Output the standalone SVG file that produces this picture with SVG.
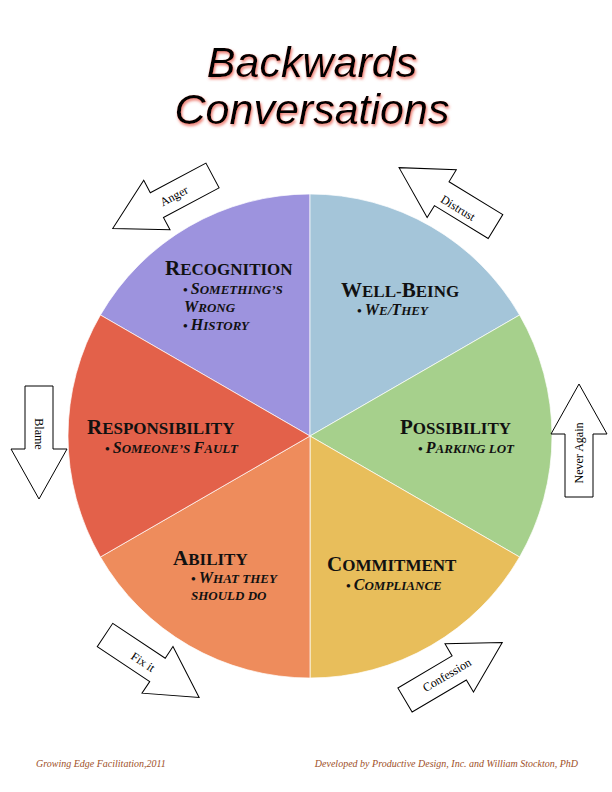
<svg xmlns="http://www.w3.org/2000/svg" width="612" height="792" viewBox="0 0 612 792">
<defs>
<style>
.title{font-family:"Liberation Sans",Arial,sans-serif;font-style:italic;font-size:43px;fill:#000;text-anchor:middle;}
.h{font-family:"Liberation Serif","Times New Roman",serif;font-weight:bold;font-size:17px;fill:#111;}
.h .b{font-size:21px;}
.i{font-family:"Liberation Serif","Times New Roman",serif;font-weight:bold;font-style:italic;font-size:13px;fill:#111;}
.i .b{font-size:16px;}
.sec{stroke:#ffffff;stroke-width:1;stroke-opacity:0.7;}
.arrow{fill:#fff;stroke:#000;stroke-width:1;}
.al{font-family:"Liberation Serif","Times New Roman",serif;font-size:12px;fill:#000;text-anchor:middle;dominant-baseline:central;}
.foot{font-family:"Liberation Serif","Times New Roman",serif;font-style:italic;font-size:10px;fill:#9E4F27;}
</style>
<polygon id="arr" points="0,-14 63,-14 63,-28 113,0 63,28 63,14 0,14"/>
<filter id="glow" x="-20%" y="-50%" width="140%" height="200%">
<feGaussianBlur in="SourceAlpha" stdDeviation="1.6" result="b"/>
<feOffset in="b" dx="1.2" dy="1.6" result="o"/>
<feFlood flood-color="#e8584a" flood-opacity="0.85"/>
<feComposite in2="o" operator="in" result="s"/>
<feMerge><feMergeNode in="s"/><feMergeNode in="SourceGraphic"/></feMerge>
</filter>
</defs>
<rect width="612" height="792" fill="#fff"/>

<g id="title" filter="url(#glow)">
<text class="title" x="312" y="77">Backwards</text>
<text class="title" x="312" y="124">Conversations</text>
</g>

<g id="recognition">
<path class="sec" fill="#9D93DE" d="M310,436 L100.42,315 A242,242 0 0 1 310,194 Z"/>
<text class="h" x="165" y="275"><tspan class="b">R</tspan>ECOGNITION</text>
<text class="i" x="183" y="294">• <tspan class="b">S</tspan>OMETHING’S</text>
<text class="i" x="184" y="312"><tspan class="b">W</tspan>RONG</text>
<text class="i" x="183" y="330">• <tspan class="b">H</tspan>ISTORY</text>
</g>

<g id="well-being">
<path class="sec" fill="#A4C5D9" d="M310,436 L310,194 A242,242 0 0 1 519.58,315 Z"/>
<text class="h" x="341" y="297"><tspan class="b">W</tspan>ELL-<tspan class="b">B</tspan>EING</text>
<text class="i" x="357" y="315">• <tspan class="b">W</tspan>E/<tspan class="b">T</tspan>HEY</text>
</g>

<g id="possibility">
<path class="sec" fill="#A6D08C" d="M310,436 L519.58,315 A242,242 0 0 1 519.58,557 Z"/>
<text class="h" x="400" y="434"><tspan class="b">P</tspan>OSSIBILITY</text>
<text class="i" x="418" y="453">• <tspan class="b">P</tspan>ARKING LOT</text>
</g>

<g id="commitment">
<path class="sec" fill="#E8BE5B" d="M310,436 L519.58,557 A242,242 0 0 1 310,678 Z"/>
<text class="h" x="327" y="571"><tspan class="b">C</tspan>OMMITMENT</text>
<text class="i" x="346" y="590">• <tspan class="b">C</tspan>OMPLIANCE</text>
</g>

<g id="ability">
<path class="sec" fill="#EE8C5C" d="M310,436 L310,678 A242,242 0 0 1 100.42,557 Z"/>
<text class="h" x="173" y="565"><tspan class="b">A</tspan>BILITY</text>
<text class="i" x="191" y="583">• <tspan class="b">W</tspan>HAT THEY</text>
<text class="i" x="191" y="600">SHOULD DO</text>
</g>

<g id="responsibility">
<path class="sec" fill="#E3614A" d="M310,436 L100.42,557 A242,242 0 0 1 100.42,315 Z"/>
<text class="h" x="87" y="434"><tspan class="b">R</tspan>ESPONSIBILITY</text>
<text class="i" x="105" y="453">• <tspan class="b">S</tspan>OMEONE’S <tspan class="b">F</tspan>AULT</text>
</g>

<g id="arrows">
<g id="arrow-anger">
<use href="#arr" class="arrow" transform="translate(212.5,175.5) rotate(152)"/>
<text class="al" transform="translate(174,196) rotate(-28)">Anger</text>
</g>
<g id="arrow-distrust">
<use href="#arr" class="arrow" transform="translate(495.5,226.5) rotate(211.4)"/>
<text class="al" transform="translate(458,208) rotate(31.4)">Distrust</text>
</g>
<g id="arrow-blame">
<use href="#arr" class="arrow" transform="translate(39,386) rotate(90)"/>
<text class="al" transform="translate(39,434) rotate(90)">Blame</text>
</g>
<g id="arrow-never-again">
<use href="#arr" class="arrow" transform="translate(579,497) rotate(-90)"/>
<text class="al" transform="translate(579,453) rotate(-90)">Never Again</text>
</g>
<g id="arrow-fix-it">
<use href="#arr" class="arrow" transform="translate(105,635) rotate(33.6)"/>
<text class="al" transform="translate(143,662) rotate(33.6)">Fix it</text>
</g>
<g id="arrow-confession">
<use href="#arr" class="arrow" transform="translate(405,700) rotate(-30.6)"/>
<text class="al" transform="translate(447,675) rotate(-30.6)">Confession</text>
</g>
</g>

<g id="footer">
<text class="foot" x="36" y="767">Growing Edge Facilitation,2011</text>
<text class="foot" x="578" y="767" text-anchor="end">Developed by Productive Design, Inc. and William Stockton, PhD</text>
</g>
</svg>
